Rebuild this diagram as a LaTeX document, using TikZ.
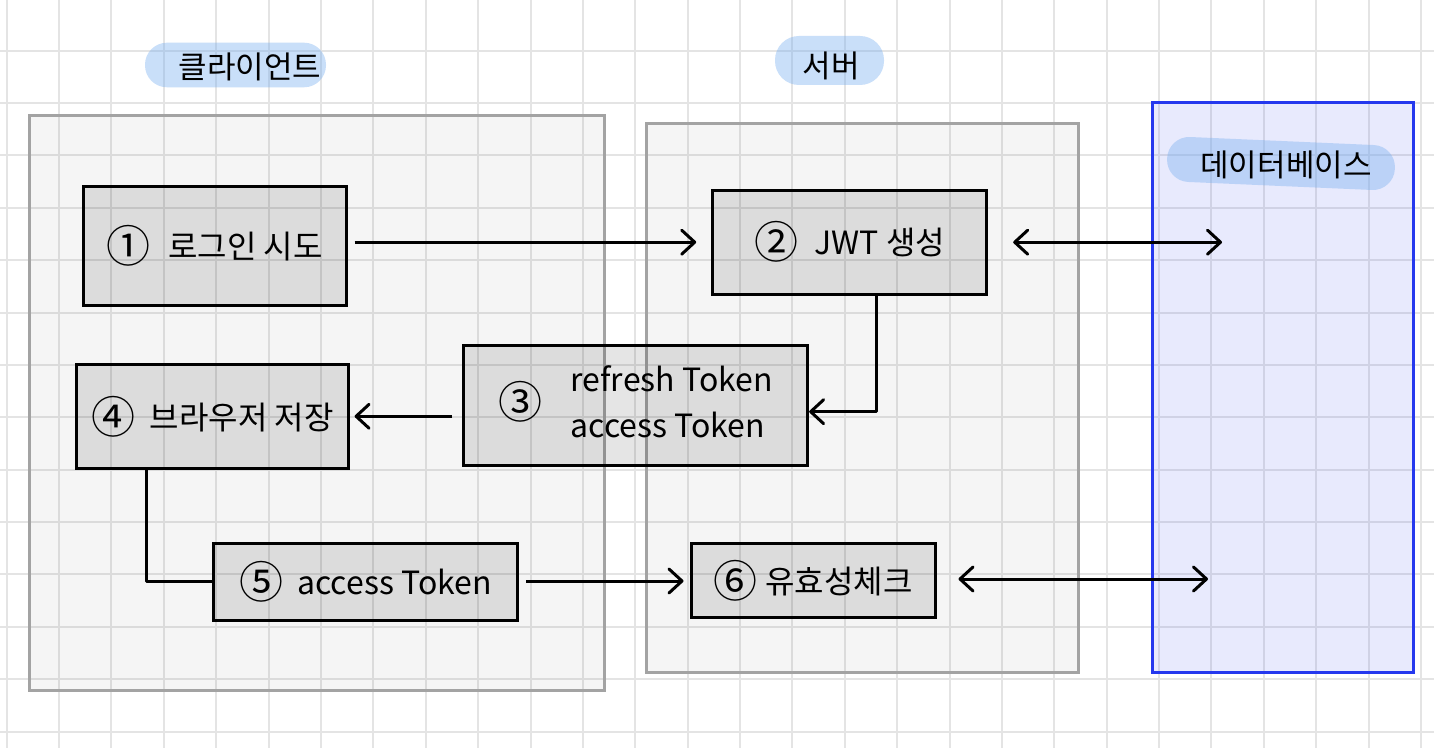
\documentclass[tikz,border=0pt]{standalone}
\usepackage{fontspec}
\newfontfamily\kr{Noto Sans CJK KR}
\usetikzlibrary{arrows.meta}
\definecolor{gridc}{HTML}{E4E4E4}
\definecolor{contb}{HTML}{A3A3A3}
\definecolor{dbblue}{HTML}{2538EE}
\definecolor{pillblue}{RGB}{120,175,240}
\newcommand\circnum[1]{\raisebox{-2pt}{\fontsize{22pt}{22pt}\selectfont #1}}
\begin{document}
\begin{tikzpicture}[x=0.5pt,y=-0.5pt,
  gridline/.style={draw=gridc, line width=1pt},
  container/.style={draw=contb, line width=1.5pt, fill=black, fill opacity=0.04},
  dbbox/.style={draw=dbblue, line width=1.5pt, fill=dbblue, fill opacity=0.1},
  pill/.style={fill=pillblue, fill opacity=0.4},
  stepbox/.style={draw=black, line width=1.5pt, fill=black, fill opacity=0.1, text opacity=1,
    inner sep=0pt, font=\kr\fontsize{16pt}{23pt}\selectfont},
  heading/.style={font=\kr\fontsize{15.5pt}{18pt}\selectfont, inner sep=0pt},
  conn/.style={line width=1.5pt, line join=round},
  arr/.style={conn, -{Straight Barb[length=6.5pt,width=12pt,round]}},
  biarr/.style={conn, {Straight Barb[length=6.5pt,width=12pt,round]}-{Straight Barb[length=6.5pt,width=12pt,round]}}
]
\useasboundingbox (0,0) rectangle (1434,748);
\fill[white] (0,0) rectangle (1434,748);
% grid
\foreach \i in {0,...,27} \draw[gridline] ({6.7+52.38*\i},0) -- ({6.7+52.38*\i},748);
\foreach \j in {1,...,14} \draw[gridline] (0,{-1.7+52.38*\j}) -- (1434,{-1.7+52.38*\j});

% containers
\draw[container] (29.3,115.7) rectangle (604,690);
\draw[container] (646,124) rectangle (1078,672);
\draw[dbbox] (1152,103) rectangle (1413,672);

% heading pills
\node[pill, rounded corners=11pt, minimum width=90.5pt, minimum height=22.3pt, inner sep=0pt] (pc) at (235.5,65) {};
\node[pill, rounded corners=12pt, minimum width=54.5pt, minimum height=24.5pt, inner sep=0pt] (ps) at (829.5,60.5) {};
\node[pill, rounded corners=11pt, minimum width=114pt, minimum height=22.5pt, inner sep=0pt, rotate=-2.5] (pd) at (1281,163.5) {};
\node[heading] (hc) at (250,67) {클라이언트};
\node[heading] (hs) at (831,66) {서버};
\node[heading] (hd) at (1286,165) {데이터베이스};

% step boxes
\node[stepbox, minimum width=131.5pt, minimum height=59.75pt] (n1) at (214.5,245.8) {\circnum{①}\hspace{9pt}로그인 시도};
\node[stepbox, minimum width=137pt, minimum height=52.15pt] (n2) at (849.7,242.2) {\circnum{②}\hspace{8pt}JWT 생성};
\node[stepbox, minimum width=171.85pt, minimum height=59.5pt] (n3) at (635.8,405.5)
  {\circnum{③}\hspace{14pt}\begin{tabular}{@{}l@{}}refresh Token\\access Token\end{tabular}};
\node[stepbox, minimum width=136pt, minimum height=52pt] (n4) at (212.7,416.3) {\circnum{④}\hspace{7pt}브라우저 저장};
\node[stepbox, minimum width=152.2pt, minimum height=38.7pt] (n5) at (365.5,582) {\circnum{⑤}\hspace{7pt}access Token};
\node[stepbox, minimum width=122pt, minimum height=37.2pt] (n6) at (813,580.5) {\circnum{⑥}\hspace{4pt}유효성체크};

% connector anchor points
\coordinate (db1) at (1222,240);
\coordinate (db2) at (1208,579);
\coordinate (k23) at (876,411.7);
\coordinate (k45) at (146,581);

% connectors
\draw[arr, shorten <=3.5pt, shorten >=7.5pt] (n1.east |- n2.west) -- (n2.west);
\draw[biarr, shorten <=12.5pt] (n2.east) -- (db1 |- n2.east);
\draw[arr] (k23 |- n2.south) -- (k23) -- (k23 -| n3.east);
\draw[arr, shorten <=5pt, shorten >=2.2pt] (n3.west |- n4.east) -- (n4.east);
\draw[conn] (k45 |- n4.south) -- (k45) -- (k45 -| n5.west);
\draw[arr, shorten <=3.5pt, shorten >=3pt] (n5.east |- k45) -- (n6.west |- k45);
\draw[biarr, shorten <=11pt] (n6.east |- db2) -- (db2);
\end{tikzpicture}
\end{document}
